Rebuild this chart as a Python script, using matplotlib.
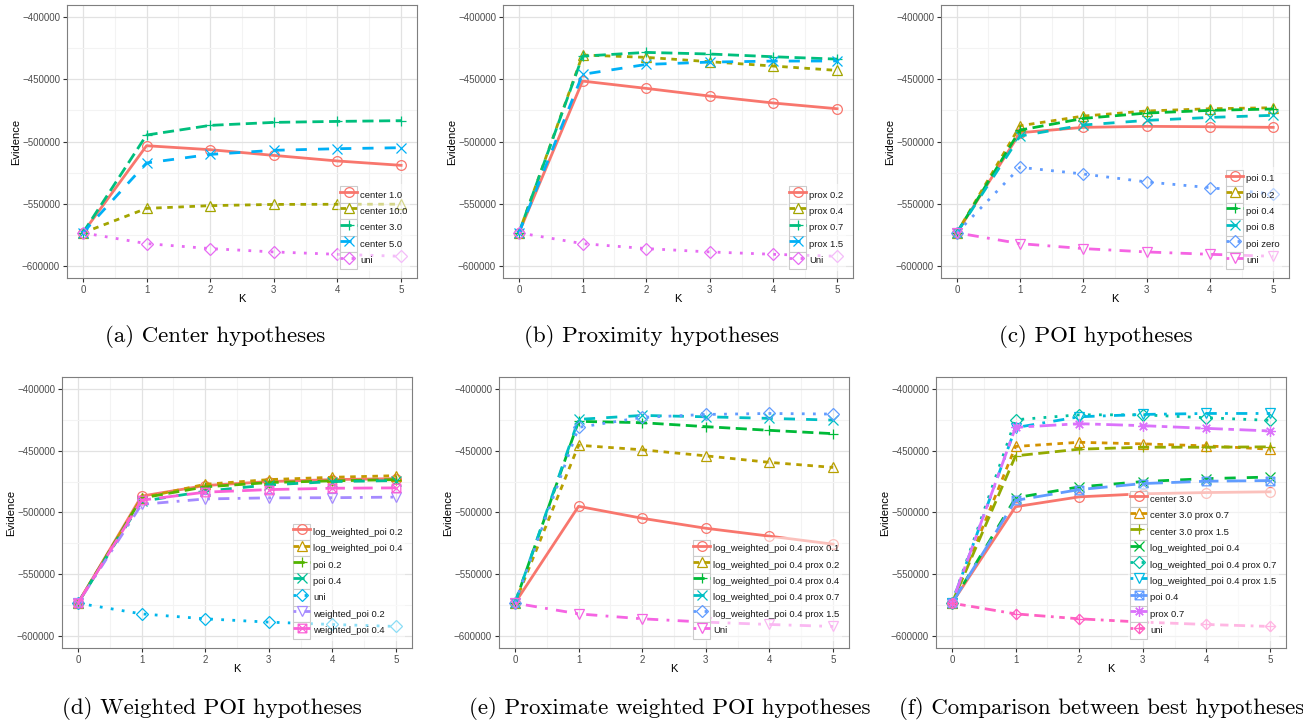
import matplotlib
matplotlib.use("Agg")
import matplotlib.pyplot as plt
from matplotlib.lines import Line2D
from matplotlib.patches import Rectangle
from matplotlib.path import Path
from matplotlib.legend_handler import HandlerLine2D
from matplotlib.ticker import FuncFormatter

plt.rcParams['font.family'] = ['Liberation Sans', 'DejaVu Sans']

# data
K = [0, 1, 2, 3, 4, 5]
uni = [-573600, -582300, -586300, -589000, -590900, -592500]

center_labels = ["center 1.0", "center 10.0", "center 3.0", "center 5.0", "uni"]
center_values = [
    [-573600, -503400, -506600, -511200, -515700, -519200],
    [-573600, -553900, -551700, -550700, -550600, -550500],
    [-573600, -494800, -487000, -484600, -483800, -483200],
    [-573600, -517300, -510400, -507100, -505800, -505000],
    uni,
]

prox_labels = ["prox 0.2", "prox 0.4", "prox 0.7", "prox 1.5", "Uni"]
prox_values = [
    [-573600, -451300, -457200, -463400, -469000, -473600],
    [-573600, -430300, -432200, -435700, -439200, -442700],
    [-573600, -431200, -428200, -429500, -431700, -433600],
    [-573600, -445900, -437900, -436000, -435200, -435100],
    uni,
]

poi_labels = ["poi 0.1", "poi 0.2", "poi 0.4", "poi 0.8", "poi zero", "uni"]
poi_values = [
    [-573600, -492900, -488600, -487800, -488100, -488600],
    [-573600, -487300, -479500, -475400, -473600, -472800],
    [-573600, -490800, -481400, -477100, -474900, -473800],
    [-573600, -495600, -486700, -483000, -480600, -478900],
    [-573600, -520800, -526200, -532600, -537200, -542300],
    uni,
]

wpoi_labels = ["log_weighted_poi 0.2", "log_weighted_poi 0.4", "poi 0.2", "poi 0.4",
               "uni", "weighted_poi 0.2", "weighted_poi 0.4"]
wpoi_values = [
    [-573600, -486700, -478100, -474900, -473300, -472500],
    [-573600, -488100, -477100, -473300, -471400, -470100],
    [-573600, -488300, -479200, -475700, -474300, -473300],
    [-573600, -491000, -482700, -477600, -474900, -474100],
    uni,
    [-573600, -493400, -489000, -488100, -488000, -487500],
    [-573600, -490000, -483500, -481400, -480300, -480000],
]

lwp_labels = ["log_weighted_poi 0.4 prox 0.1", "log_weighted_poi 0.4 prox 0.2",
              "log_weighted_poi 0.4 prox 0.4", "log_weighted_poi 0.4 prox 0.7",
              "log_weighted_poi 0.4 prox 1.5", "Uni"]
lwp_values = [
    [-573600, -495000, -504700, -512800, -519200, -525700],
    [-573600, -445400, -449100, -454000, -459300, -463400],
    [-573600, -426000, -427100, -430300, -433300, -436000],
    [-573600, -424400, -421200, -422300, -423600, -425000],
    [-573600, -430900, -422800, -420400, -419600, -420100],
    uni,
]

best_labels = ["center 3.0", "center 3.0 prox 0.7", "center 3.0 prox 1.5",
               "log_weighted_poi 0.4", "log_weighted_poi 0.4 prox 0.7",
               "log_weighted_poi 0.4 prox 1.5", "poi 0.4", "prox 0.7", "uni"]
best_values = [
    [-573600, -495300, -487300, -484800, -483800, -483200],
    [-573600, -446400, -443000, -444300, -445900, -448600],
    [-573600, -454000, -448600, -447000, -447000, -446700],
    [-573600, -488100, -479200, -474900, -472500, -471200],
    [-573600, -424700, -420700, -420700, -423100, -425200],
    [-573600, -431100, -422300, -420400, -419600, -419600],
    [-573600, -490200, -481400, -476500, -474600, -474100],
    [-573600, -430900, -427900, -429500, -431700, -433800],
    uni,
]

captions = ["(a) Center hypotheses", "(b) Proximity hypotheses", "(c) POI hypotheses",
            "(d) Weighted POI hypotheses", "(e) Proximate weighted POI hypotheses",
            "(f) Comparison between best hypotheses"]

# ggplot default hue palettes
PAL = {
    5: ["#F8766D", "#A3A500", "#00BF7D", "#00B0F6", "#E76BF3"],
    6: ["#F8766D", "#B79F00", "#00BA38", "#00BFC4", "#619CFF", "#F564E3"],
    7: ["#F8766D", "#C49A00", "#53B400", "#00C094", "#00B6EB", "#A58AFF", "#FB61D7"],
    9: ["#F8766D", "#D39200", "#93AA00", "#00BA38", "#00C19F", "#00B9E3", "#619CFF",
        "#DB72FB", "#FF61C3"],
}

M, L, C = Path.MOVETO, Path.LINETO, Path.CLOSEPOLY
SQX = Path([(-1, -1), (1, -1), (1, 1), (-1, 1), (-1, -1), (-1, -1), (1, 1), (-1, 1), (1, -1)],
           [M, L, L, L, C, M, L, M, L])
DPLUS = Path([(0, 1), (1, 0), (0, -1), (-1, 0), (0, 1), (0, 1), (0, -1), (-1, 0), (1, 0)],
             [M, L, L, L, C, M, L, M, L])
MARKERS = ['o', '^', '+', 'x', 'D', 'v', SQX, (8, 2, 0), DPLUS]
MSIZE = [7, 7.5, 7.5, 6.5, 6.5, 7.5, 6.2, 7.5, 7.5]
DASHES = ['-', (0, (2, 2)), (0, (4, 2)), (0, (4, 4)), (0, (1, 3)), (0, (1, 3, 4, 3)),
          (0, (7, 3)), (0, (2, 2, 6, 2)), (0, (1, 2, 2, 2, 3, 2, 4, 2))]


class KeyBoxHandler(HandlerLine2D):
    # legend key drawn inside a light grey box, like ggplot's legend.key
    def create_artists(self, legend, orig_handle, xdescent, ydescent, width, height,
                       fontsize, trans):
        box = Rectangle((-xdescent, -ydescent), width, height, facecolor='white',
                        edgecolor='#CCCCCC', lw=0.8, transform=trans)
        arts = super().create_artists(legend, orig_handle, xdescent, ydescent,
                                      width, height, fontsize, trans)
        return [box] + list(arts)


W, H = 1303, 722
fig = plt.figure(figsize=(W / 100, H / 100), dpi=100)

# panel boxes in pixels: left, right, top, bottom
boxes = [(67, 417, 5, 278), (503, 853, 5, 278), (941, 1289, 5, 278),
         (62, 412, 377, 648), (499, 849, 377, 648), (936, 1286, 377, 648)]
cap_pos = [(215, 337), (652, 337), (1096, 337), (212, 708), (670, 708), (1102, 708)]
panels = [(center_labels, center_values), (prox_labels, prox_values),
          (poi_labels, poi_values), (wpoi_labels, wpoi_values),
          (lwp_labels, lwp_values), (best_labels, best_values)]

fmt = FuncFormatter(lambda v, p: ("%.0f" % v).replace('-', '\u2212'))

for (l, r, t, b), (labels, values), cap, (cx, cy) in zip(boxes, panels, captions, cap_pos):
    ax = fig.add_axes([l / W, 1 - b / H, (r - l) / W, (b - t) / H])
    cols = PAL[len(labels)]
    handles = []
    for i, (lab, vals) in enumerate(zip(labels, values)):
        h, = ax.plot(K, vals, color=cols[i], lw=2, ls=DASHES[i], marker=MARKERS[i],
                     ms=MSIZE[i], mfc='none', mew=0.9, label=lab)
        handles.append(h)

    ax.set_xlim(-0.25, 5.25)
    ax.set_ylim(-610000, -390000)
    ax.set_xticks(K)
    ax.set_yticks([-600000, -550000, -500000, -450000, -400000])
    ax.set_xticks([0.5, 1.5, 2.5, 3.5, 4.5], minor=True)
    ax.set_yticks([-575000, -525000, -475000, -425000], minor=True)
    ax.yaxis.set_major_formatter(fmt)
    ax.grid(which='major', color='#E2E2E2', lw=0.9)
    ax.grid(which='minor', color='#F3F3F3', lw=0.8)
    ax.set_axisbelow(True)
    ax.tick_params(which='minor', length=0)
    ax.tick_params(which='major', length=3, width=0.8, color='#333333', labelsize=7,
                   labelcolor='#4D4D4D', pad=2)
    for s in ax.spines.values():
        s.set_color('#7F7F7F')
        s.set_linewidth(0.8)

    ax.set_ylabel("Evidence", fontsize=8)
    ax.set_xlabel("K", fontsize=8)
    ax.yaxis.set_label_coords(-46 / (r - l), 0.5)
    ax.xaxis.set_label_coords(0.5, -16 / (b - t))

    leg = ax.legend(handles=handles, loc='lower right', bbox_to_anchor=(1, 0),
                    borderaxespad=0.7, fontsize=6.8, handlelength=1.8, handleheight=2.3,
                    handletextpad=0.3, labelspacing=0, borderpad=0.3, frameon=True,
                    framealpha=0.55, edgecolor='none', facecolor='white', fancybox=False,
                    handler_map={Line2D: KeyBoxHandler()})
    for txt in leg.get_texts():
        txt.set_color('#1A1A1A')

    fig.text(cx / W, 1 - cy / H, cap, family='cmr10', fontsize=16.5,
             ha='center', va='center')

fig.savefig("out.png", dpi=100)
